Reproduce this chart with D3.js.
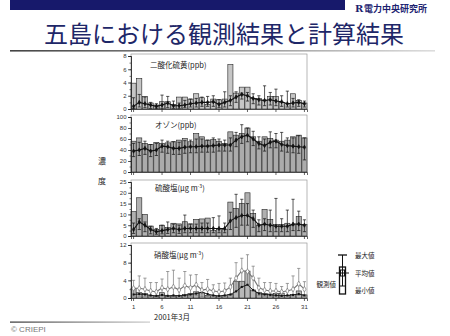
<!DOCTYPE html>
<html>
<head>
<meta charset="utf-8">
<script src="https://cdn.jsdelivr.net/npm/d3@7"></script>
<style>
  body { margin: 0; background: #fff; }
  svg { display: block; }
</style>
</head>
<body>
<svg id="chart" width="450" height="336"></svg>
<script>
// days of March 2001
const days = [1,2,3,4,5,6,7,8,9,10,11,12,13,14,15,16,17,18,19,20,21,22,23,24,25,26,27,28,29,30,31]
const dayTicks = [1,6,11,16,21,26,31]

// SO2 (ppb)
const so2Obs  = [3.9,4.6,1.9,0.9,0.6,1.1,1.1,0.7,1.8,1.8,1.5,2.3,1.7,0.7,1.5,1.4,1.5,6.7,2.4,3.3,3.3,1.6,1.6,1.3,1.9,1.9,1.0,0.8,2.3,1.3,0.9]
const so2Mean = [0.4,1.0,0.8,0.6,0.4,0.6,0.9,0.5,0.5,0.6,0.8,0.9,1.0,1.0,1.1,0.7,1.0,1.3,1.8,2.2,2.0,1.6,1.4,1.3,1.4,1.2,1.1,0.8,0.9,1.0,0.8]
const so2Max  = [1.7,2.2,1.8,1.0,0.8,2.1,1.9,1.2,0.9,1.3,1.5,1.6,1.8,1.9,2.0,1.4,2.6,2.0,2.6,2.4,2.5,2.3,2.0,3.5,2.5,3.0,2.0,2.7,1.6,1.4,1.2]
const so2Min  = [0.05,0.3,0.2,0.1,0.1,0.1,0.2,0.1,0.1,0.2,0.3,0.3,0.4,0.4,0.4,0.2,0.3,0.5,1.0,1.5,1.2,0.8,0.6,0.5,0.6,0.5,0.4,0.3,0.3,0.4,0.3]

// O3 (ppb)
const o3Obs  = [56,62,52,50,54,52,53,55,58,61,55,70,64,58,59,56,52,73,67,70,80,64,56,64,61,58,56,58,64,67,62]
const o3Mean = [38,40,43,38,40,47,46,43,43,45,46,46,47,47,48,49,49,49,58,64,67,60,52,48,54,56,50,48,47,46,45]
const o3Max  = [52,54,56,50,52,58,56,55,54,57,58,60,60,58,62,60,58,62,72,86,80,74,64,60,73,70,72,62,62,66,62]
const o3Min  = [28,30,32,28,30,36,34,32,32,34,35,35,36,36,36,38,38,38,46,52,55,48,42,38,44,44,38,36,35,34,22]

// sulfate (ug m-3)
const so4Obs  = [11.3,17.7,10.0,4.6,3.1,5.0,3.9,5.9,5.6,6.6,5.6,7.7,7.9,8.3,2.5,3.0,3.1,15.7,12.8,15.1,20.0,10.5,5.1,12.3,7.7,5.4,5.4,5.9,5.1,9.0,5.4]
const so4Mean = [3.0,6.5,5.0,3.0,2.0,2.5,3.0,3.5,3.0,3.5,3.5,3.5,3.5,3.5,3.5,3.5,3.5,7.0,8.5,9.5,9.5,8.0,5.0,5.5,5.0,4.5,4.5,4.5,5.5,5.5,5.0]
const so4Max  = [6.0,8.0,6.5,4.5,3.5,5.0,6.5,5.5,5.0,9.7,5.5,5.5,6.0,6.0,8.5,9.3,6.0,11.0,19.3,17.0,15.0,12.0,7.5,8.0,12.0,17.4,8.0,12.0,17.0,11.5,7.5]
const so4Min  = [1.2,3.0,2.0,1.0,0.8,1.0,1.2,1.5,1.2,1.5,1.5,1.5,1.5,1.5,1.5,1.5,1.5,3.0,4.0,5.0,5.0,4.0,2.0,2.5,2.0,2.0,2.0,2.0,2.5,2.5,2.0]

// nitrate (ug m-3)
const no3Obs  = [2.2,1.2,1.0,0.5,0.4,1.2,0.4,0.3,0.5,0.8,1.0,1.4,1.2,0.6,0.5,0.3,0.5,0.8,3.8,3.8,6.1,1.8,1.3,1.0,0.9,1.0,1.1,0.6,0.8,1.6,0.7]
const no3Mean = [2.2,2.2,2.0,1.6,1.4,2.3,2.0,2.5,1.8,2.8,2.3,3.0,1.8,2.0,1.6,1.4,1.6,2.5,4.5,6.2,6.0,4.5,2.3,1.8,1.6,1.6,1.4,1.6,2.0,3.2,2.0]
const no3Max  = [4.0,5.0,4.5,3.5,3.5,4.3,6.0,6.3,4.5,6.0,5.2,5.3,3.5,4.2,3.0,3.3,3.4,4.5,8.0,9.0,9.8,7.2,4.5,3.5,3.5,3.3,2.6,3.3,5.0,6.7,3.7]
const no3Min  = [0.4,0.4,0.3,0.3,0.2,0.4,0.3,0.4,0.3,0.4,0.4,0.5,0.3,0.3,0.3,0.2,0.3,0.5,1.5,2.5,3.0,1.5,0.5,0.4,0.3,0.3,0.3,0.3,0.4,0.6,0.4]
const no3Low  = [0.8,0.9,0.8,0.6,0.5,0.7,0.5,0.6,0.5,0.6,0.8,1.0,1.3,0.9,0.6,0.5,0.6,0.8,1.5,2.5,3.0,1.8,1.0,0.8,0.7,0.6,0.5,0.6,0.7,0.9,0.6]

const jp = '"Noto Sans CJK JP", sans-serif'
const latin = '"Liberation Sans", Arial, sans-serif'

const svg = d3.select('#chart')
const defs = svg.append('defs')

// header bar and logo
svg.append('rect').attr('x', 10).attr('y', 0).attr('width', 335).attr('height', 10).attr('fill', '#17196b')
svg.append('text').attr('x', 355).attr('y', 12)
  .attr('font-family', 'DejaVu Serif, serif').attr('font-weight', 'bold').attr('font-size', 10)
  .attr('fill', '#1c2270').text('R')
svg.append('text').attr('x', 364).attr('y', 11.5)
  .attr('font-family', jp).attr('font-weight', 'bold').attr('font-size', 9)
  .attr('fill', '#1c2270').text('電力中央研究所')

// title
svg.append('text').attr('x', 224).attr('y', 43).attr('text-anchor', 'middle')
  .attr('font-family', jp).attr('font-size', 24).attr('fill', '#1e2768')
  .text('五島における観測結果と計算結果')

const g1 = defs.append('linearGradient').attr('id', 'rule')
g1.append('stop').attr('offset', '0%').attr('stop-color', '#444')
g1.append('stop').attr('offset', '100%').attr('stop-color', '#ddd')
svg.append('rect').attr('x', 10).attr('y', 50).attr('width', 425).attr('height', 1.6).attr('fill', 'url(#rule)')

// x scale shared by all panels
const x = d3.scaleBand().domain(days).range([131, 307]).paddingInner(0.1)
const cx = d => x(d) + x.bandwidth() / 2

const panels = [
  { title: '二酸化硫黄(ppb)', obs: so2Obs, mean: so2Mean, max: so2Max, min: so2Min,
    yMax: 8, ticks: [0,2,4,6,8], minor: 1, top: 56, bottom: 109, tx: 150, ty: 68, fill: '#c6c6c6', model: '#111' },
  { title: 'オゾン(ppb)', obs: o3Obs, mean: o3Mean, max: o3Max, min: o3Min,
    yMax: 100, ticks: [0,20,40,60,80,100], minor: 10, top: 117, bottom: 172, tx: 155, ty: 128, fill: '#ababab', model: '#111' },
  { title: '硫酸塩(μg m', sup: '-3', obs: so4Obs, mean: so4Mean, max: so4Max, min: so4Min,
    yMax: 25, ticks: [0,5,10,15,20,25], minor: 2.5, top: 182, bottom: 236, tx: 155, ty: 191, fill: '#b0b0b0', model: '#111' },
  { title: '硝酸塩(μg m', sup: '-3', obs: no3Obs, mean: no3Mean, max: no3Max, min: no3Min, low: no3Low,
    yMax: 12, ticks: [0,4,8,12], minor: 2, top: 245, bottom: 298, tx: 154, ty: 258, fill: '#b8b8b8', model: '#777', labels: true }
]

panels.forEach(function (p) {
  const y = d3.scaleLinear().domain([0, p.yMax]).range([p.bottom, p.top])
  const g = svg.append('g')

  g.append('rect').attr('x', 131).attr('y', p.top - 2).attr('width', 176).attr('height', p.bottom - p.top + 2)
    .attr('fill', 'none').attr('stroke', '#999').attr('stroke-width', 0.7)

  // observed bars
  g.selectAll('rect.bar').data(days).enter().append('rect').attr('class', 'bar')
    .attr('x', d => x(d)).attr('width', x.bandwidth())
    .attr('y', (d, i) => y(p.obs[i])).attr('height', (d, i) => p.bottom - y(p.obs[i]))
    .attr('fill', p.fill).attr('stroke', '#222').attr('stroke-width', 0.6)

  // model min-max
  const eb = g.selectAll('g.eb').data(days).enter().append('g').attr('class', 'eb')
    .attr('stroke', p.model).attr('stroke-width', 0.7)
  eb.append('line').attr('x1', cx).attr('x2', cx)
    .attr('y1', (d, i) => y(p.min[i])).attr('y2', (d, i) => y(p.max[i]))
  eb.append('line').attr('x1', d => cx(d) - 1.6).attr('x2', d => cx(d) + 1.6)
    .attr('y1', (d, i) => y(p.max[i])).attr('y2', (d, i) => y(p.max[i]))
  eb.append('line').attr('x1', d => cx(d) - 1.6).attr('x2', d => cx(d) + 1.6)
    .attr('y1', (d, i) => y(p.min[i])).attr('y2', (d, i) => y(p.min[i]))

  // second dark line in the nitrate panel
  if (p.low) {
    const lowLine = d3.line().x(cx).y((d, i) => y(p.low[i]))
    g.append('path').attr('d', lowLine(days)).attr('fill', 'none').attr('stroke', '#111').attr('stroke-width', 0.9)
    g.selectAll('rect.lm').data(days).enter().append('rect').attr('class', 'lm')
      .attr('x', d => cx(d) - 1).attr('y', (d, i) => y(p.low[i]) - 1).attr('width', 2).attr('height', 2)
      .attr('fill', '#111')
  }

  // model mean
  const line = d3.line().x(cx).y((d, i) => y(p.mean[i]))
  g.append('path').attr('d', line(days)).attr('fill', 'none')
    .attr('stroke', p.model).attr('stroke-width', 1.1)
  const sym = d3.symbol().type(d3.symbolDiamond).size(p.low ? 9 : 5)
  g.selectAll('path.mk').data(days).enter().append('path').attr('class', 'mk')
    .attr('d', sym).attr('transform', (d, i) => 'translate(' + cx(d) + ',' + y(p.mean[i]) + ')')
    .attr('fill', p.low ? '#fff' : '#111').attr('stroke', p.model).attr('stroke-width', 0.7)

  // axes
  const yAxis = g.append('g').attr('transform', 'translate(131,0)')
    .call(d3.axisLeft(y).tickValues(p.ticks).tickSize(3).tickPadding(1.5))
  yAxis.selectAll('text').attr('font-family', latin).attr('font-size', 6).attr('fill', '#333')
  yAxis.selectAll('line, path').attr('stroke', '#222').attr('stroke-width', 0.7)
  const minorTicks = d3.range(0, p.yMax + 0.01, p.minor)
  g.append('g').attr('transform', 'translate(131,0)')
    .call(d3.axisLeft(y).tickValues(minorTicks).tickSize(1.5).tickFormat(''))
    .selectAll('line, path').attr('stroke', '#222').attr('stroke-width', 0.6)

  const xAxis = g.append('g').attr('transform', 'translate(0,' + p.bottom + ')')
    .call(d3.axisBottom(x).tickValues(dayTicks).tickSize(3).tickPadding(4)
      .tickFormat(p.labels ? (d => d) : ''))
  xAxis.selectAll('text').attr('font-family', latin).attr('font-size', 6).attr('fill', '#333')
  xAxis.selectAll('line, path').attr('stroke', '#222').attr('stroke-width', 0.7)

  const t = g.append('text').attr('x', p.tx).attr('y', p.ty)
    .attr('font-family', jp).attr('font-size', 7.5).attr('fill', '#222').text(p.title)
  if (p.sup) {
    t.append('tspan').attr('font-size', 5).attr('dy', -3).text(p.sup)
    t.append('tspan').attr('dy', 3).text(')')
  }
})

// shared y label and x label
svg.append('text').attr('x', 102).attr('y', 164).attr('text-anchor', 'middle')
  .attr('font-family', jp).attr('font-size', 8).attr('fill', '#222').text('濃')
svg.append('text').attr('x', 102).attr('y', 184).attr('text-anchor', 'middle')
  .attr('font-family', jp).attr('font-size', 8).attr('fill', '#222').text('度')
svg.append('text').attr('x', 172).attr('y', 320).attr('text-anchor', 'middle')
  .attr('font-family', jp).attr('font-size', 7.5).attr('fill', '#222').text('2001年3月')

// legend
const lg = svg.append('g').attr('stroke', '#111').attr('stroke-width', 1)
lg.append('rect').attr('x', 339.5).attr('y', 267).attr('width', 6).attr('height', 27).attr('fill', '#fff').attr('stroke-width', 1.3)
lg.append('line').attr('x1', 342.5).attr('x2', 342.5).attr('y1', 255).attr('y2', 286)
lg.append('line').attr('x1', 338).attr('x2', 347).attr('y1', 255).attr('y2', 255).attr('stroke-width', 1.3)
lg.append('line').attr('x1', 336).attr('x2', 349).attr('y1', 273).attr('y2', 273)
lg.append('rect').attr('x', 340.5).attr('y', 270).attr('width', 4).attr('height', 6).attr('fill', 'none')
lg.append('line').attr('x1', 340).attr('x2', 345).attr('y1', 286).attr('y2', 286)
const legendText = [['最大値', 355, 258], ['平均値', 355, 276], ['最小値', 355, 293]]
svg.selectAll('text.lgt').data(legendText).enter().append('text').attr('class', 'lgt')
  .attr('x', d => d[1]).attr('y', d => d[2])
  .attr('font-family', jp).attr('font-size', 6.5).attr('fill', '#222').text(d => d[0])
svg.append('text').attr('x', 336).attr('y', 287).attr('text-anchor', 'end')
  .attr('font-family', jp).attr('font-size', 6.5).attr('fill', '#222').text('観測値')

// footer
const g2 = defs.append('linearGradient').attr('id', 'foot')
g2.append('stop').attr('offset', '0%').attr('stop-color', '#333')
g2.append('stop').attr('offset', '100%').attr('stop-color', '#ccc')
svg.append('rect').attr('x', 10).attr('y', 321.5).attr('width', 140).attr('height', 1.2).attr('fill', 'url(#foot)')
svg.append('text').attr('x', 11).attr('y', 332)
  .attr('font-family', latin).attr('font-size', 8).attr('fill', '#777').text('© CRIEPI')
</script>
</body>
</html>
